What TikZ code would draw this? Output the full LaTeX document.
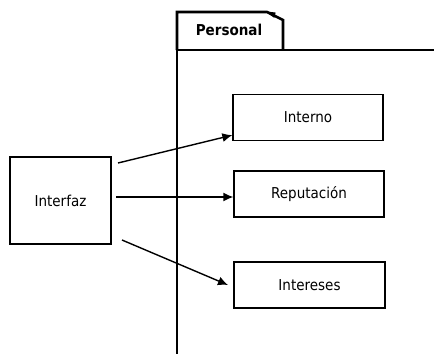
\documentclass[tikz,border=0pt]{standalone}
\usepackage{fontspec}
\setmainfont{DejaVu Sans Condensed}
\usetikzlibrary{arrows.meta}

\begin{document}
\begin{tikzpicture}[
  x=1pt, y=-1pt,
  every node/.style={inner sep=1pt},
  box/.style={draw, line width=1.3pt, inner sep=0pt, font=\fontsize{15}{17}\selectfont},
  smallbox/.style={box, minimum width=150pt, minimum height=46pt},
  pkg/.style={draw, line width=2.6pt},
  arrow/.style={draw, line width=1.4pt, -{Latex[length=10pt,width=9pt]}},
  tabname/.style={font=\bfseries\fontsize{15}{17}\selectfont}]

  \useasboundingbox (0,0) rectangle (434,354);

  % ---- the package: tab and body --------------------------------------------
  \draw[pkg, line join=miter] (177,50) -- (177,12) -- (267,12) -- (283,20) -- (283,50);
  \filldraw[line width=1pt] (267,12) -- (275,13) -- (274,17) -- cycle;
  \draw[pkg] (175.7,50) -- (434,50);
  \draw[pkg] (177,12) -- (177,354);
  \node[tabname] (personal) at (229,30) {Personal};

  % ---- the boxes --------------------------------------------------------------
  \node[box, minimum width=101pt, minimum height=87pt] (interfaz) at (60.5,200.5) {Interfaz};
  \node[smallbox] (interno) at (308,117.5) {Interno};
  \node[smallbox] (reputacion) at (309,194) {Reputación};
  \node[smallbox, minimum width=151pt] (intereses) at (309.5,285) {Intereses};

  % ---- the arrows, starting a little off the interface box --------------------
  \coordinate (a1) at (118,163);
  \coordinate (a2) at (116,197);
  \coordinate (a3) at (122,240);
  \coordinate (t3) at (228,285);

  \draw[arrow] (a1) -- ([yshift=6pt]interno.south west);
  \draw[arrow] (a2) -- (a2 -| reputacion.west);
  \draw[arrow] (a3) -- (t3);
\end{tikzpicture}
\end{document}
